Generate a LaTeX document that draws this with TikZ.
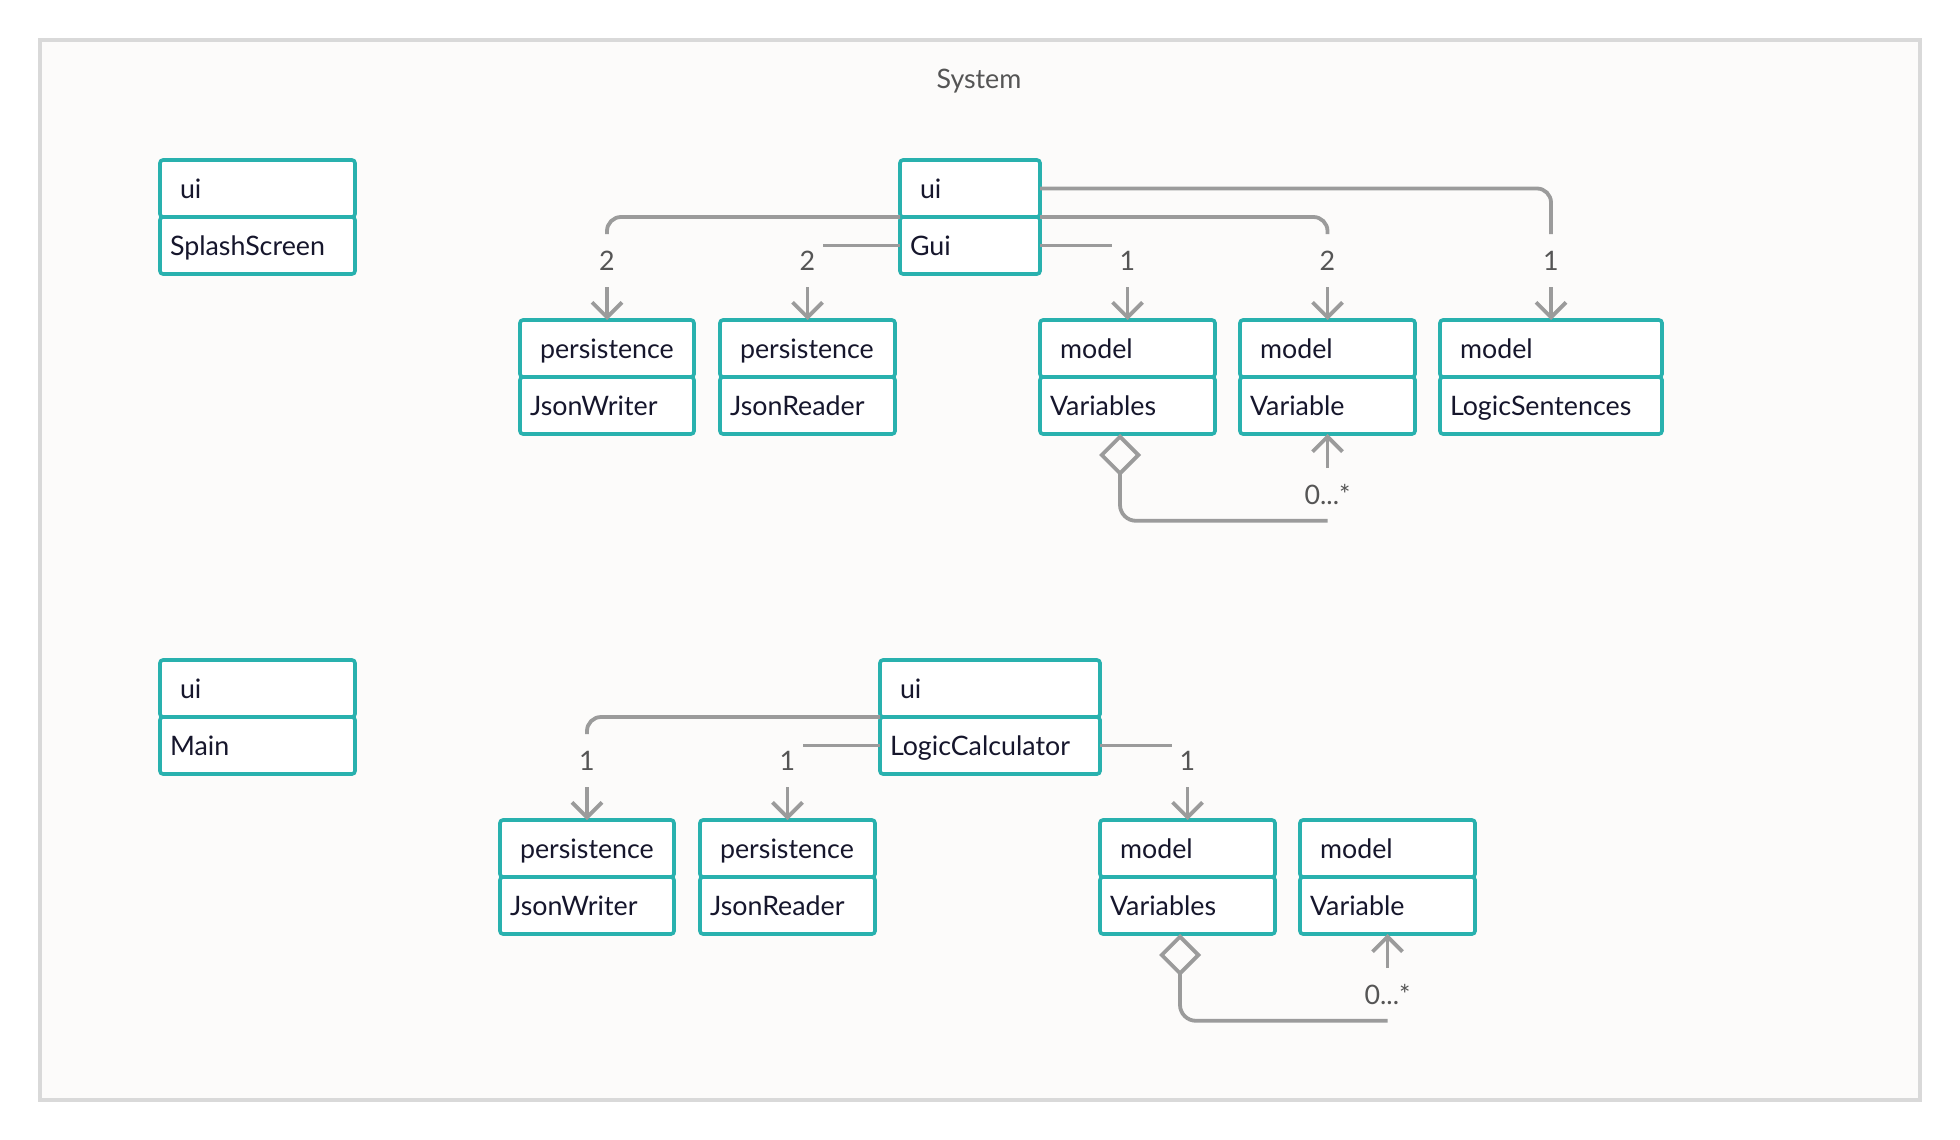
\documentclass[tikz,border=0pt]{standalone}
\usepackage{fontspec}
\setmainfont{Lato}
\usetikzlibrary{arrows.meta,positioning}

\definecolor{boxteal}{HTML}{29B1AE}
\definecolor{linkgray}{HTML}{9B9B9B}
\definecolor{labelgray}{HTML}{555555}
\definecolor{inkblue}{HTML}{16162C}
\definecolor{framegray}{HTML}{D9D9D9}
\definecolor{paper}{HTML}{FCFBFA}

\tikzset{
  compart/.style={draw=boxteal, fill=white, line width=1.8pt, rounded corners=1.5pt,
    minimum height=28.5pt, outer sep=0pt, align=left, text=inkblue,
    text height=9.6pt, text depth=0pt, font=\fontsize{13.4}{16}\selectfont},
  pkgbox/.style={compart, anchor=north west, inner xsep=10pt, text width={#1-20pt}},
  clsbox/.style={compart, anchor=north, inner xsep=5pt, text width={#1-10pt}},
  mult/.style={text=labelgray, font=\fontsize{13.4}{16}\selectfont, inner sep=0pt,
    minimum width=15pt, minimum height=26pt},
  assoc/.style={draw=linkgray, line width=1.9pt, rounded corners=7pt},
  navig/.style={draw=linkgray, line width=1.9pt, -{Straight Barb[length=7.5pt,width=15pt]}},
  aggr/.style={draw=linkgray, line width=1.9pt, rounded corners=8pt,
    {Diamond[open,length=21pt,width=21pt]}-},
}

\begin{document}
\begin{tikzpicture}[x=0.5pt,y=-0.5pt]
  \fill[white] (0,0) rectangle (1960,1140);
  \useasboundingbox (0,0) rectangle (1960,1140);
  \draw[framegray, fill=paper, line width=1.8pt] (40,40) rectangle (1920,1100);
  \node[text=labelgray, font=\fontsize{13.4}{16}\selectfont] (sys) at (979,81) {System};

  % upper system
  \node[pkgbox=97.5pt] (splp) at (160,160) {ui};
  \node[clsbox=97.5pt, below=0pt of splp] (spl) {SplashScreen};
  \node[pkgbox=70pt] (guip) at (900,160) {ui};
  \node[clsbox=70pt, below=0pt of guip] (gui) {Gui};

  \node[pkgbox=87pt] (wr1p) at (520,320) {persistence};
  \node[clsbox=87pt, below=0pt of wr1p] (wr1) {JsonWriter};
  \node[pkgbox=87.5pt, right=13pt of wr1p] (rd1p) {persistence};
  \node[clsbox=87.5pt, below=0pt of rd1p] (rd1) {JsonReader};
  \node[pkgbox=87.5pt] (va1p) at (1040,320) {model};
  \node[clsbox=87.5pt, below=0pt of va1p] (va1) {Variables};
  \node[pkgbox=87.5pt, right=12.5pt of va1p] (vb1p) {model};
  \node[clsbox=87.5pt, below=0pt of vb1p] (vb1) {Variable};
  \node[pkgbox=111pt, right=12.5pt of vb1p] (ls1p) {model};
  \node[clsbox=111pt, below=0pt of ls1p] (ls1) {LogicSentences};

  \node[mult, above=16.5pt of wr1p] (mwr1) {2};
  \node[mult, above=16.5pt of rd1p] (mrd1) {2};
  \node[mult, above=16.5pt of va1p] (mva1) {1};
  \node[mult, above=16.5pt of vb1p] (mvb1) {2};
  \node[mult, above=16.5pt of ls1p] (mls1) {1};
  \node[mult, below=17pt of vb1] (mv1) {0...*};

  \draw[assoc] (guip.south west) -| (mwr1.north);
  \draw[assoc] (gui.west) -- (gui.west -| mrd1.east);
  \draw[assoc] (gui.east) -- (gui.east -| mva1.west);
  \draw[assoc] (guip.south east) -| (mvb1.north);
  \draw[assoc] (guip.east) -| (mls1.north);
  \draw[navig] (mwr1.south) -- (wr1p.north);
  \draw[navig] (mrd1.south) -- (rd1p.north);
  \draw[navig] (mva1.south) -- (va1p.north);
  \draw[navig] (mvb1.south) -- (vb1p.north);
  \draw[navig] (mls1.south) -- (ls1p.north);
  \draw[aggr] ([xshift=-3.75pt]va1.south) |- (mv1.south);
  \draw[navig] (mv1.north) -- (vb1.south);

  % lower system
  \node[pkgbox=97.5pt] (mainp) at (160,660) {ui};
  \node[clsbox=97.5pt, below=0pt of mainp] (main) {Main};
  \node[pkgbox=110pt] (lcp) at (880,660) {ui};
  \node[clsbox=110pt, below=0pt of lcp] (lc) {LogicCalculator};

  \node[pkgbox=87pt] (wr2p) at (500,820) {persistence};
  \node[clsbox=87pt, below=0pt of wr2p] (wr2) {JsonWriter};
  \node[pkgbox=87.5pt, right=13pt of wr2p] (rd2p) {persistence};
  \node[clsbox=87.5pt, below=0pt of rd2p] (rd2) {JsonReader};
  \node[pkgbox=87.5pt] (va2p) at (1100,820) {model};
  \node[clsbox=87.5pt, below=0pt of va2p] (va2) {Variables};
  \node[pkgbox=87.5pt, right=12.5pt of va2p] (vb2p) {model};
  \node[clsbox=87.5pt, below=0pt of vb2p] (vb2) {Variable};

  \node[mult, above=16.5pt of wr2p] (mwr2) {1};
  \node[mult, above=16.5pt of rd2p] (mrd2) {1};
  \node[mult, above=16.5pt of va2p] (mva2) {1};
  \node[mult, below=17pt of vb2] (mv2) {0...*};

  \draw[assoc] (lcp.south west) -| (mwr2.north);
  \draw[assoc] (lc.west) -- (lc.west -| mrd2.east);
  \draw[assoc] (lc.east) -- (lc.east -| mva2.west);
  \draw[navig] (mwr2.south) -- (wr2p.north);
  \draw[navig] (mrd2.south) -- (rd2p.north);
  \draw[navig] (mva2.south) -- (va2p.north);
  \draw[aggr] ([xshift=-3.75pt]va2.south) |- (mv2.south);
  \draw[navig] (mv2.north) -- (vb2.south);
\end{tikzpicture}
\end{document}
